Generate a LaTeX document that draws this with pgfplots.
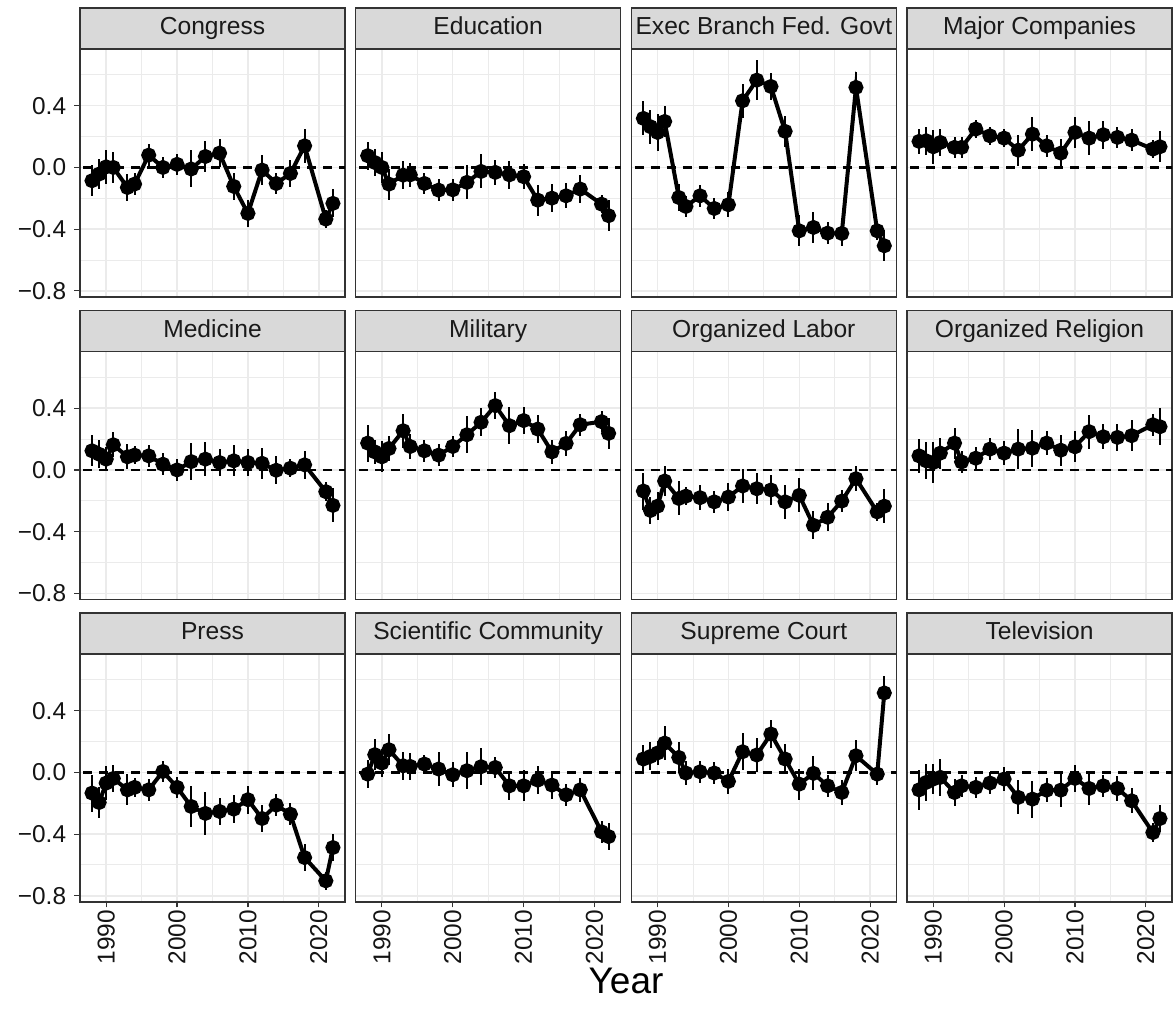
\documentclass[border=0pt]{standalone}
\usepackage{fontspec}
\setmainfont{Liberation Sans}
\usepackage{pgfplots}
\usepackage{pgfplotstable}
\pgfplotsset{compat=1.18}
\usepgfplotslibrary{groupplots}
\usetikzlibrary{calc}

\definecolor{gridc}{RGB}{235,235,235}
\definecolor{stripfill}{RGB}{217,217,217}
\definecolor{borderc}{RGB}{51,51,51}
\definecolor{tickc}{RGB}{20,20,20}
\definecolor{stripc}{RGB}{26,26,26}

\pgfplotstableread{
year y e
1988 -0.086 0.10
1989 -0.043 0.10
1990 0.004 0.11
1991 0.000 0.10
1993 -0.130 0.09
1994 -0.108 0.07
1996 0.080 0.07
1998 0.000 0.07
2000 0.020 0.07
2002 -0.010 0.12
2004 0.071 0.10
2006 0.093 0.09
2008 -0.123 0.09
2010 -0.298 0.09
2012 -0.017 0.10
2014 -0.104 0.07
2016 -0.039 0.09
2018 0.140 0.11
2021 -0.335 0.06
2022 -0.233 0.09
}\tCongress

\pgfplotstableread{
year y e
1988 0.076 0.09
1989 0.032 0.09
1990 0.000 0.10
1991 -0.108 0.10
1993 -0.050 0.09
1994 -0.048 0.08
1996 -0.104 0.07
1998 -0.147 0.07
2000 -0.145 0.07
2002 -0.097 0.11
2004 -0.026 0.11
2006 -0.032 0.08
2008 -0.048 0.09
2010 -0.060 0.08
2012 -0.212 0.10
2014 -0.199 0.09
2016 -0.184 0.08
2018 -0.140 0.09
2021 -0.238 0.06
2022 -0.313 0.10
}\tEducation

\pgfplotstableread{
year y e
1988 0.318 0.11
1989 0.264 0.11
1990 0.227 0.12
1991 0.298 0.10
1993 -0.195 0.09
1994 -0.253 0.07
1996 -0.184 0.07
1998 -0.266 0.07
2000 -0.242 0.08
2002 0.432 0.11
2004 0.566 0.13
2006 0.525 0.09
2008 0.234 0.10
2010 -0.411 0.10
2012 -0.389 0.10
2014 -0.426 0.07
2016 -0.428 0.08
2018 0.519 0.10
2021 -0.411 0.06
2022 -0.508 0.10
}\tExec

\pgfplotstableread{
year y e
1988 0.169 0.08
1989 0.173 0.09
1990 0.134 0.11
1991 0.162 0.09
1993 0.130 0.07
1994 0.130 0.07
1996 0.249 0.06
1998 0.205 0.06
2000 0.190 0.06
2002 0.112 0.10
2004 0.216 0.11
2006 0.140 0.07
2008 0.093 0.09
2010 0.227 0.10
2012 0.190 0.11
2014 0.212 0.09
2016 0.195 0.07
2018 0.177 0.07
2021 0.119 0.06
2022 0.134 0.10
}\tCompanies

\pgfplotstableread{
year y e
1988 0.124 0.10
1989 0.102 0.09
1990 0.070 0.08
1991 0.163 0.08
1993 0.085 0.08
1994 0.096 0.06
1996 0.091 0.07
1998 0.037 0.07
2000 0.000 0.07
2002 0.054 0.12
2004 0.070 0.11
2006 0.048 0.09
2008 0.059 0.10
2010 0.048 0.09
2012 0.043 0.10
2014 -0.002 0.09
2016 0.011 0.06
2018 0.033 0.09
2021 -0.141 0.06
2022 -0.230 0.11
}\tMedicine

\pgfplotstableread{
year y e
1988 0.174 0.12
1989 0.117 0.08
1990 0.085 0.10
1991 0.139 0.08
1993 0.254 0.11
1994 0.152 0.08
1996 0.124 0.07
1998 0.096 0.07
2000 0.152 0.07
2002 0.228 0.12
2004 0.309 0.09
2006 0.417 0.09
2008 0.287 0.12
2010 0.320 0.09
2012 0.265 0.09
2014 0.117 0.08
2016 0.172 0.08
2018 0.293 0.07
2021 0.313 0.07
2022 0.237 0.10
}\tMilitary

\pgfplotstableread{
year y e
1988 -0.137 0.12
1989 -0.263 0.09
1990 -0.235 0.09
1991 -0.072 0.10
1993 -0.185 0.11
1994 -0.170 0.06
1996 -0.180 0.08
1998 -0.207 0.07
2000 -0.176 0.09
2002 -0.104 0.11
2004 -0.122 0.10
2006 -0.130 0.10
2008 -0.207 0.11
2010 -0.165 0.11
2012 -0.359 0.09
2014 -0.307 0.09
2016 -0.202 0.07
2018 -0.057 0.08
2021 -0.272 0.06
2022 -0.235 0.11
}\tLabor

\pgfplotstableread{
year y e
1988 0.091 0.11
1989 0.059 0.12
1990 0.048 0.13
1991 0.109 0.10
1993 0.174 0.10
1994 0.052 0.07
1996 0.076 0.07
1998 0.135 0.07
2000 0.109 0.08
2002 0.135 0.13
2004 0.141 0.12
2006 0.174 0.08
2008 0.128 0.10
2010 0.150 0.10
2012 0.248 0.11
2014 0.215 0.08
2016 0.211 0.09
2018 0.222 0.10
2021 0.293 0.07
2022 0.280 0.12
}\tReligion

\pgfplotstableread{
year y e
1988 -0.134 0.12
1989 -0.195 0.10
1990 -0.069 0.11
1991 -0.039 0.09
1993 -0.113 0.10
1994 -0.097 0.06
1996 -0.113 0.07
1998 0.006 0.07
2000 -0.097 0.07
2002 -0.221 0.13
2004 -0.266 0.14
2006 -0.253 0.09
2008 -0.238 0.09
2010 -0.177 0.09
2012 -0.299 0.09
2014 -0.212 0.07
2016 -0.271 0.07
2018 -0.552 0.09
2021 -0.703 0.06
2022 -0.487 0.09
}\tPress

\pgfplotstableread{
year y e
1988 -0.011 0.09
1989 0.115 0.10
1990 0.061 0.09
1991 0.147 0.10
1993 0.043 0.09
1994 0.039 0.09
1996 0.054 0.06
1998 0.022 0.11
2000 -0.015 0.08
2002 0.011 0.12
2004 0.037 0.12
2006 0.032 0.07
2008 -0.087 0.09
2010 -0.087 0.10
2012 -0.050 0.09
2014 -0.082 0.09
2016 -0.145 0.07
2018 -0.113 0.08
2021 -0.385 0.07
2022 -0.416 0.09
}\tScience

\pgfplotstableread{
year y e
1988 0.087 0.09
1989 0.104 0.09
1990 0.126 0.08
1991 0.190 0.11
1993 0.097 0.10
1994 -0.004 0.08
1996 0.004 0.07
1998 -0.004 0.07
2000 -0.058 0.08
2002 0.134 0.12
2004 0.113 0.11
2006 0.249 0.09
2008 0.087 0.10
2010 -0.076 0.10
2012 -0.006 0.11
2014 -0.087 0.07
2016 -0.130 0.08
2018 0.108 0.10
2021 -0.011 0.07
2022 0.515 0.11
}\tCourt

\pgfplotstableread{
year y e
1988 -0.113 0.13
1989 -0.065 0.12
1990 -0.043 0.10
1991 -0.032 0.12
1993 -0.130 0.09
1994 -0.087 0.07
1996 -0.097 0.07
1998 -0.069 0.07
2000 -0.043 0.08
2002 -0.162 0.11
2004 -0.173 0.12
2006 -0.115 0.08
2008 -0.115 0.11
2010 -0.039 0.09
2012 -0.104 0.11
2014 -0.087 0.07
2016 -0.104 0.08
2018 -0.184 0.08
2021 -0.390 0.06
2022 -0.299 0.09
}\tTelevision

\pgfplotsset{
  series/.style={black, line width=2pt, mark=*, mark size=2.75pt,
    mark options={solid, fill=black},
    error bars/.cd, y dir=both, y explicit, error mark=none,
    error bar style={line width=1pt, black, solid}},
  noxt/.style={xtick style={draw=none}},
  noyt/.style={ytick style={draw=none}},
}

\newcommand{\panel}[1]{%
  \addplot[black, line width=1.2pt, dash pattern=on 4.5pt off 3.5pt, forget plot] coordinates {(1980,0) (2030,0)};
  \addplot[series] table[x=year, y=y, y error=e] {#1};
}

\begin{document}
\begin{tikzpicture}
\begin{groupplot}[
  group style={group size=4 by 3, horizontal sep=5.35pt, vertical sep=27.25pt,
    xticklabels at=edge bottom, yticklabels at=edge left},
  scale only axis, width=132.5pt, height=124pt,
  xmin=1986.3, xmax=2023.7, ymin=-0.84, ymax=0.768,
  xtick={1990,2000,2010,2020}, xticklabels={1990,2000,2010,2020},
  ytick={-0.8,-0.4,0,0.4}, yticklabels={−0.8,−0.4,0.0,0.4},
  minor xtick={1995,2005,2015}, minor ytick={-0.6,-0.2,0.2,0.6},
  grid=both,
  major grid style={gridc, line width=0.75pt},
  minor grid style={gridc, line width=0.45pt},
  axis line style={borderc, line width=0.6pt},
  xtick pos=bottom, ytick pos=left, tick align=outside,
  major tick length=2.75pt, minor tick length=0pt,
  tick style={borderc, line width=0.6pt},
  ticklabel style={font=\fontsize{12.2}{14}\selectfont, text=tickc, inner sep=1pt},
  xticklabel style={rotate=90, anchor=east},
  yticklabel style={xshift=-3pt},
  every axis title/.style={at={(0.5,1)}, anchor=south, draw=borderc, fill=stripfill,
    line width=0.6pt, minimum width=132.5pt, minimum height=20.5pt, inner sep=0pt, outer sep=0pt,
    text height=8.8pt, text depth=2.6pt,
    font=\fontsize{12.3}{14}\selectfont, text=stripc},
]
\nextgroupplot[title={Congress}, noxt]
\panel{\tCongress}
\nextgroupplot[title={Education}, noxt, noyt]
\panel{\tEducation}
\nextgroupplot[title={Exec Branch Fed. Govt}, noxt, noyt]
\panel{\tExec}
\nextgroupplot[title={Major Companies}, noxt, noyt]
\panel{\tCompanies}
\nextgroupplot[title={Medicine}, noxt]
\panel{\tMedicine}
\nextgroupplot[title={Military}, noxt, noyt]
\panel{\tMilitary}
\nextgroupplot[title={Organized Labor}, noxt, noyt]
\panel{\tLabor}
\nextgroupplot[title={Organized Religion}, noxt, noyt]
\panel{\tReligion}
\nextgroupplot[title={Press}]
\panel{\tPress}
\nextgroupplot[title={Scientific Community}, noyt]
\panel{\tScience}
\nextgroupplot[title={Supreme Court}, noyt]
\panel{\tCourt}
\nextgroupplot[title={Television}, noyt]
\panel{\tTelevision}
\end{groupplot}
\node[font=\fontsize{18.5}{21}\selectfont, anchor=north, inner sep=0pt, yshift=-33pt]
  at ($(group c2r3.south east)!0.5!(group c3r3.south west)$) {Year};
\path ([xshift=-40pt,yshift=24.5pt]group c1r1.north west) rectangle ([xshift=0.5pt,yshift=-59.5pt]group c4r3.south east);
\end{tikzpicture}
\end{document}
